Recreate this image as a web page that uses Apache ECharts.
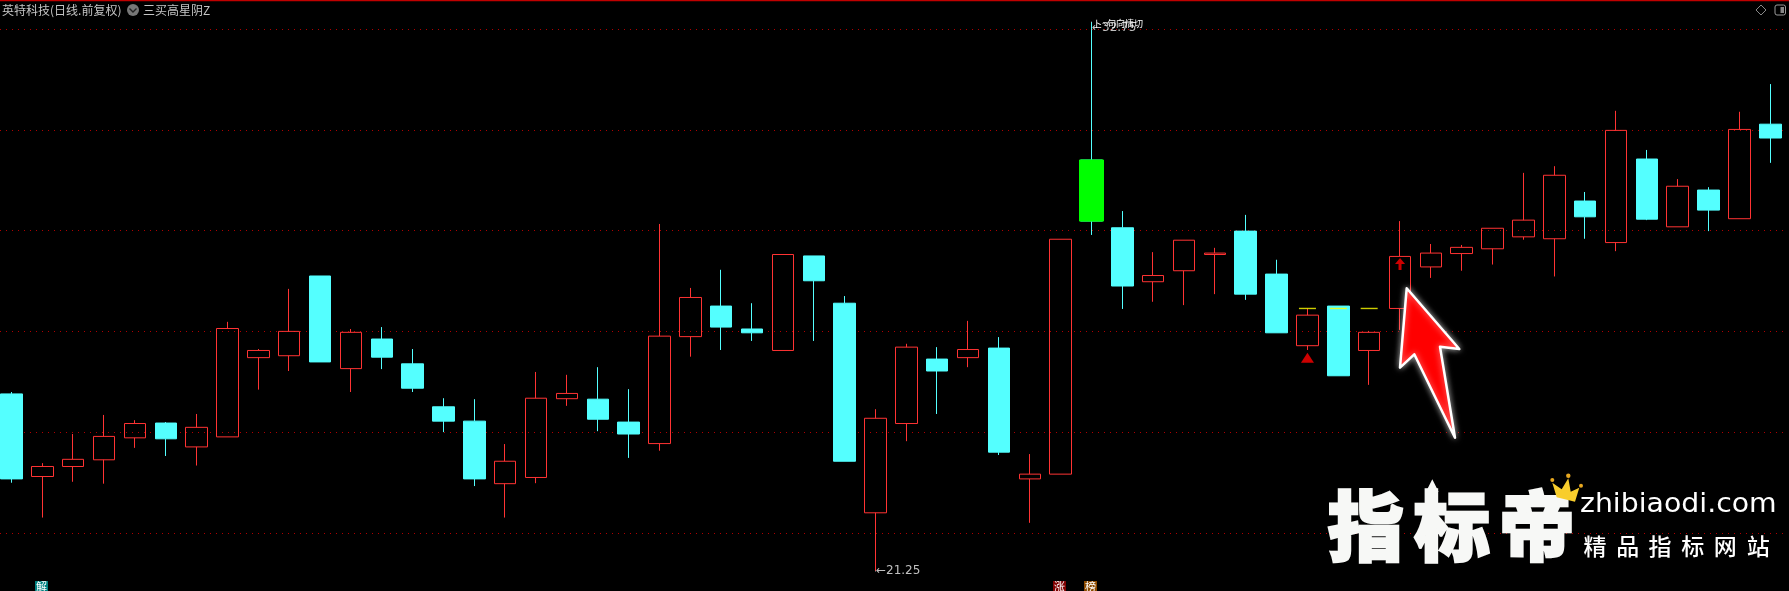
<!DOCTYPE html>
<html><head><meta charset="utf-8">
<style>html,body{margin:0;padding:0;background:#000}#c{width:1789px;height:591px}</style>
<script src="https://cdn.jsdelivr.net/npm/echarts@6/dist/echarts.min.js"></script>
</head><body><div id="c"></div>
<script>
const categories = Array.from({length:58},(_,i)=>String(i+1));
const opens  = [24.96,23.23,23.44,23.58,24.04,24.35,23.85,24.06,25.72,25.76,27.43,25.49,26.11,25.59,24.69,24.39,23.08,23.21,24.86,24.85,24.37,23.92,26.16,26.80,26.32,25.87,27.85,26.86,22.47,24.34,25.69,25.72,25.92,23.18,23.28,29.86,28.44,27.31,27.54,27.88,28.37,27.47,25.97,26.80,25.87,26.75,27.62,27.90,28.00,28.25,28.21,29.00,28.13,29.88,28.46,29.23,28.63,30.61];
const closes = [23.18,23.44,23.59,24.07,24.34,24.02,24.26,26.33,25.87,26.27,25.63,26.25,25.73,25.08,24.39,23.18,23.55,24.87,24.97,24.43,24.12,26.17,26.98,26.36,26.24,27.88,27.33,23.55,24.45,25.94,25.44,25.89,23.74,23.28,28.20,28.58,27.22,27.44,28.18,27.91,27.05,26.24,26.61,25.34,26.25,27.84,27.91,28.03,28.43,28.60,29.54,28.67,30.48,28.62,29.31,28.81,30.50,30.32];
const lows   = [23.10,22.37,23.12,23.08,23.83,23.66,23.46,24.06,25.05,25.44,25.63,25.00,25.48,25.00,24.16,23.03,22.37,23.09,24.71,24.18,23.62,23.77,25.74,25.88,26.07,25.87,26.07,23.55,21.25,23.97,24.54,25.52,23.68,22.26,23.28,28.29,26.74,26.89,26.82,27.05,26.93,26.24,25.88,25.34,25.15,26.30,27.39,27.54,27.67,28.19,27.42,28.21,27.95,28.60,28.46,28.37,28.63,29.80];
const highs  = [25.00,23.51,24.12,24.52,24.41,24.37,24.54,26.47,25.90,27.16,27.43,26.32,26.36,25.90,24.87,24.85,23.91,25.42,25.36,25.52,25.06,28.52,27.18,27.56,26.86,27.88,27.85,27.01,24.64,26.01,25.94,26.49,26.15,23.70,28.20,32.75,28.79,27.93,28.18,28.02,28.71,27.77,26.75,26.80,26.28,28.58,28.10,28.08,28.43,29.59,29.73,29.19,30.89,30.07,29.46,29.29,30.87,31.45];
const gridLevels = [32.60,30.49,28.39,26.27,24.16,22.04];
const limitIndex = 35;
const yellowIndex = [42,43,44];
const yellowValue = 26.75;
const triangleIndex = 42, triangleValue = 25.72;
const arrowIndex = 45, arrowValue = 27.68;
const lowIndex = 28, lowLabel = '21.25';
const highIndex = 35, highLabel = '32.75';
const titleText = '英特科技(日线.前复权)';
const indicatorText = '三买高星阴Z';
const overlapText = '卜~句向情切';
const brandChars = ['指','标','帝'];
const brandCenters = [1365.7,1452,1537];
const subChars = ['精','品','指','标','网','站'];
const subCenters = [1595,1627.7,1660,1692.7,1725.3,1758.3];
const siteText = 'zhibiaodi.com';

const RED='#ff3333', CYAN='#54ffff', CJK='"Noto Sans CJK SC"';
const chart = echarts.init(document.getElementById('c'),null,{renderer:'canvas'});
const glow = {shadowBlur:9,shadowColor:'rgba(255,255,255,0.55)'};
const tag = (x,bg,ch)=>[
  {type:'rect',z:20,shape:{x:x,y:581,width:13,height:10},style:{fill:bg}},
  {type:'text',z:21,style:{x:x+6.5,y:587,text:ch,fill:'#fff',font:'11px '+CJK,align:'center',verticalAlign:'middle'}}
];
const graphic = [
  {type:'rect',z:20,shape:{x:0,y:0,width:1789,height:1.3},style:{fill:'#c00000'}},
  {type:'text',z:20,style:{x:2,y:10,text:titleText,fill:'#c4c4c4',font:'12px '+CJK,verticalAlign:'middle'}},
  {type:'circle',z:20,shape:{cx:133,cy:10,r:6},style:{fill:'#777'}},
  {type:'polyline',z:21,shape:{points:[[129.5,8.5],[133,12],[136.5,8.5]]},style:{stroke:'#222',lineWidth:1.4,fill:null}},
  {type:'text',z:20,style:{x:143,y:10,text:indicatorText,fill:'#c4c4c4',font:'12px '+CJK,verticalAlign:'middle'}},
  {type:'polygon',z:20,shape:{points:[[1761,5],[1766,10],[1761,15],[1756,10]]},style:{fill:null,stroke:'#888',lineWidth:1}},
  {type:'rect',z:20,shape:{x:1775,y:5,width:10.5,height:10,r:2},style:{fill:null,stroke:'#999',lineWidth:1}},
  {type:'rect',z:20,shape:{x:1780.5,y:7,width:3.5,height:6},style:{fill:'#888'}},
  {type:'text',z:25,style:{x:1093,y:24,text:overlapText,fill:'#fff',font:'9px '+CJK,verticalAlign:'middle'}},
  ...tag(35,'#008080','解'),...tag(1053,'#800000','涨'),...tag(1084,'#8b4a00','榜'),
  {type:'polygon',z:30,shape:{points:[[1406.7,288.3],[1459.3,349],[1440,346.7],[1455,437.7],[1414.3,354.3],[1400,367.7]]},
    style:{fill:'#ff0000',stroke:'#fff',lineWidth:2.5,lineJoin:'round',shadowBlur:6,shadowColor:'rgba(255,255,255,0.6)'}},
  ...brandChars.map((c,i)=>({type:'text',z:30,style:{x:brandCenters[i],y:526,text:c,fill:'#f7f8f6',stroke:'#f7f8f6',lineWidth:2.5,font:'900 76px '+CJK,align:'center',verticalAlign:'middle',...glow}})),
  {type:'polygon',z:30,shape:{points:[[1432.3,479.3],[1426,491.7],[1429,491.7],[1429,502],[1436,502],[1436,491.7],[1438.6,491.7]]},style:{fill:'#f7f8f6'}},
  {type:'polygon',z:31,shape:{points:[[1556.7,497.3],[1575,501.7],[1579.3,487.7],[1570.7,491.7],[1568.3,478.3],[1561.7,489.3],[1552.3,482.7]]},style:{fill:'#f8cd2c'}},
  {type:'circle',z:31,shape:{cx:1552.3,cy:480,r:2},style:{fill:'#e8a820'}},
  {type:'circle',z:31,shape:{cx:1568.3,cy:475.7,r:2.2},style:{fill:'#e8a820'}},
  {type:'circle',z:31,shape:{cx:1581,cy:485.7,r:2},style:{fill:'#e8a820'}},
  {type:'text',z:30,x:1580,y:505,scaleX:1.09,style:{x:0,y:0,text:siteText,fill:'#fff',font:'26px "DejaVu Sans"',verticalAlign:'middle',shadowBlur:5,shadowColor:'rgba(255,255,255,0.5)'}},
  ...subChars.map((c,i)=>({type:'text',z:30,style:{x:subCenters[i],y:546,text:c,fill:'#fff',font:'500 23px '+CJK,align:'center',verticalAlign:'middle',shadowBlur:5,shadowColor:'rgba(255,255,255,0.4)'}}))
];
const noteLabel = {show:true,position:'right',distance:0,color:'#c0c0c0',fontSize:12,fontFamily:'"DejaVu Sans"'};
chart.setOption({
  animation:false,
  backgroundColor:'#000',
  grid:[
    {left:11.5,top:0,width:1758.8,height:591,containLabel:false},
    {left:0,top:0,width:1784,height:591,containLabel:false}
  ],
  xAxis:[
    {type:'category',gridIndex:0,data:categories,show:false,boundaryGap:false},
    {type:'value',gridIndex:1,min:0,max:1,show:false,splitLine:{show:false}}
  ],
  yAxis:[
    {type:'value',gridIndex:0,min:20.832,max:33.211,show:false,splitLine:{show:false},scale:true},
    {type:'value',gridIndex:1,min:20.832,max:33.211,show:false,splitLine:{show:false},scale:true}
  ],
  tooltip:{show:false},
  graphic:graphic,
  series:[
    {type:'line',xAxisIndex:1,yAxisIndex:1,data:[],silent:true,markLine:{z:1,silent:true,symbol:'none',animation:false,label:{show:false},
      lineStyle:{color:'#b00000',type:[1,5],width:1},data:gridLevels.map(v=>({yAxis:v}))}},
    {name:'K',type:'candlestick',z:2,barWidth:22,clip:false,
      itemStyle:{color:'rgba(0,0,0,0)',color0:CYAN,borderColor:RED,borderColor0:CYAN,borderWidth:1},
      data:categories.map((_,i)=>[opens[i],closes[i],lows[i],highs[i]]),
      markPoint:{silent:true,symbol:'circle',symbolSize:1,animation:false,itemStyle:{color:'#c0c0c0'},
        data:[
          {coord:[lowIndex,+lowLabel],value:lowLabel,label:{...noteLabel,formatter:'←'+lowLabel}},
          {coord:[highIndex,+highLabel],value:highLabel,label:{...noteLabel,offset:[0,6],formatter:'←'+highLabel}}
        ]}},
    {name:'limit',type:'candlestick',z:3,barWidth:24,encode:{x:0,y:[1,2,3,4]},
      itemStyle:{color0:'#00ff00',borderColor0:'#00ff00',borderWidth:1},
      data:[[limitIndex,opens[limitIndex],closes[limitIndex],closes[limitIndex],opens[limitIndex]]]},
    {name:'mark',type:'scatter',z:4,symbol:'rect',symbolSize:[17,1.4],itemStyle:{color:'#ffff00'},
      data:yellowIndex.map(i=>[i,yellowValue])},
    {name:'tri',type:'scatter',z:4,symbol:'triangle',symbolSize:[13,10],itemStyle:{color:'#ff0000'},
      data:[[triangleIndex,triangleValue]]},
    {name:'up',type:'scatter',z:4,symbol:'path://M5 0 L10 6 L6.5 6 L6.5 12 L3.5 12 L3.5 6 L0 6 Z',symbolSize:[10,12],itemStyle:{color:'#ff0000'},
      data:[[arrowIndex,arrowValue]]}
  ]
});
</script></body></html>
